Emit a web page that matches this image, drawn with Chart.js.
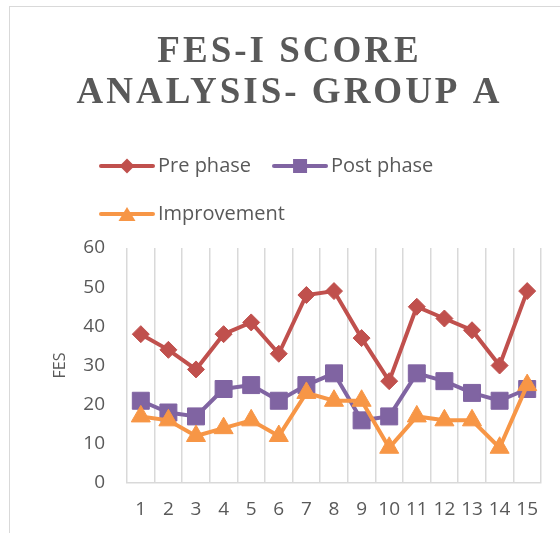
<!DOCTYPE html>
<html>
<head>
<meta charset="utf-8">
<title>FES-I score analysis - Group A</title>
<script src="https://cdn.jsdelivr.net/npm/chart.js"></script>
<style>
    html, body { margin: 0; padding: 0; background: #fff; overflow: hidden; }
    #wrap { position: relative; width: 560px; height: 533px; }
    #frame { position: absolute; left: 9px; top: 6px; width: 620px; height: 600px; border: 1px solid #d9d9d9; }
    #graph { position: absolute; left: 0; top: 0; }
</style>
</head>
<body>
<div id="wrap">
    <div id="frame"></div>
    <canvas id="graph" width="560" height="533"></canvas>
</div>
<script>
const titleLines = ['FES-I SCORE', 'ANALYSIS- GROUP A'];
const patients = ['1', '2', '3', '4', '5', '6', '7', '8', '9', '10', '11', '12', '13', '14', '15'];
const prePhase = [38, 34, 29, 38, 41, 33, 48, 49, 37, 26, 45, 42, 39, 30, 49];
const postPhase = [21, 18, 17, 24, 25, 21, 25, 28, 16, 17, 28, 26, 23, 21, 24];
const improvement = [17, 16, 12, 14, 16, 12, 23, 21, 21, 9, 17, 16, 16, 9, 25];
const yRange = [0, 60, 10]; // min, max, step

const grey = '#595959';
const gridGrey = '#d9d9d9';
const sans = "'Open Sans', sans-serif";

// little line + marker pictures for the legend, like the spreadsheet legend
function legendIcon(color, shape) {
    const c = document.createElement('canvas');
    c.width = 56;
    c.height = 20;
    const g = c.getContext('2d');
    g.strokeStyle = color;
    g.fillStyle = color;
    g.lineWidth = 4;
    g.lineCap = 'round';
    g.beginPath();
    g.moveTo(2, 10);
    g.lineTo(54, 10);
    g.stroke();
    g.beginPath();
    if (shape === 'diamond') {
        g.moveTo(28, 2.5); g.lineTo(35.5, 10); g.lineTo(28, 17.5); g.lineTo(20.5, 10);
    } else if (shape === 'square') {
        g.rect(21, 3, 14, 14);
    } else {
        g.moveTo(28, 3); g.lineTo(36.5, 17); g.lineTo(19.5, 17);
    }
    g.closePath();
    g.fill();
    return c;
}

const icons = [
    legendIcon('#C0504D', 'diamond'),
    legendIcon('#8064A2', 'square'),
    legendIcon('#F79646', 'triangle')
];

// title with letter spacing (the built-in title only keeps the room for it)
const spacedTitle = {
    id: 'spacedTitle',
    afterDraw(chart) {
        const box = chart.titleBlock;
        const ctx = chart.ctx;
        const lineHeight = 41;
        ctx.save();
        ctx.font = 'bold 37px "Liberation Serif"';
        ctx.fillStyle = grey;
        ctx.textAlign = 'center';
        ctx.textBaseline = 'middle';
        ctx.letterSpacing = '3px';
        titleLines.forEach(function (line, i) {
            ctx.fillText(line, 289.5, box.top + 32 + lineHeight * (i + 0.5));
        });
        ctx.restore();
    }
};

// left-align the legend rows under the title, as in the original
const legendShift = {
    id: 'legendShift',
    afterLayout(chart) {
        chart.legend.left = 78;
    }
};

const context = document.getElementById('graph');
new Chart(context, {
    type: 'line',
    data: {
        labels: patients,
        datasets: [
            {
                label: 'Pre phase',
                data: prePhase,
                borderColor: '#C0504D',
                backgroundColor: '#C0504D',
                pointStyle: 'rectRot',
                pointRadius: 8.5,
                order: 2
            },
            {
                label: 'Post phase',
                data: postPhase,
                borderColor: '#8064A2',
                backgroundColor: '#8064A2',
                pointStyle: 'rect',
                pointRadius: 12,
                order: 1
            },
            {
                label: 'Improvement',
                data: improvement,
                borderColor: '#F79646',
                backgroundColor: '#F79646',
                pointStyle: 'triangle',
                pointRadius: 11,
                order: 0
            }
        ]
    },
    options: {
        responsive: false,
        animation: false,
        events: [],
        elements: {
            line: { borderWidth: 4, tension: 0, fill: false },
            point: { borderWidth: 1 }
        },
        layout: {
            padding: { top: 0, left: 47, right: 19, bottom: 11 }
        },
        plugins: {
            tooltip: { enabled: false },
            title: {
                display: true,
                text: titleLines,
                color: 'rgba(0,0,0,0)',
                font: { family: '"Liberation Serif"', size: 37, weight: 'bold', lineHeight: 41 / 37 },
                padding: { top: 29, bottom: 17 }
            },
            legend: {
                position: 'top',
                align: 'start',
                labels: {
                    usePointStyle: true,
                    pointStyleWidth: 42,
                    padding: 28,
                    color: grey,
                    font: { family: sans, size: 20 },
                    generateLabels: function (chart) {
                        const items = Chart.defaults.plugins.legend.labels.generateLabels(chart);
                        items.sort(function (a, b) { return a.datasetIndex - b.datasetIndex; });
                        items.forEach(function (item) {
                            item.pointStyle = icons[item.datasetIndex];
                        });
                        return items;
                    }
                }
            },
            // empty spacer between legend and plot
            subtitle: {
                display: true,
                text: '',
                weight: 100,
                padding: 0,
                font: { size: 14, lineHeight: 1 }
            }
        },
        scales: {
            x: {
                offset: true,
                grid: { offset: true, color: gridGrey, lineWidth: 1.5, drawTicks: false },
                border: { display: true, color: gridGrey, width: 1.5 },
                ticks: {
                    color: grey,
                    font: { family: sans, size: 19 },
                    padding: 15,
                    autoSkip: false,
                    maxRotation: 0
                },
                afterFit: function (scale) {
                    scale.height = 39;
                }
            },
            y: {
                min: yRange[0],
                max: yRange[1],
                grid: { display: false, drawTicks: false },
                border: { display: false },
                ticks: {
                    stepSize: yRange[2],
                    color: grey,
                    font: { family: sans, size: 19 },
                    padding: 22
                },
                title: {
                    display: true,
                    text: 'FES',
                    color: grey,
                    font: { family: sans, size: 16 },
                    padding: { top: 4, bottom: 4 }
                },
                afterFit: function (scale) {
                    scale.width = 80;
                }
            }
        }
    },
    plugins: [spacedTitle, legendShift]
});
</script>
</body>
</html>
